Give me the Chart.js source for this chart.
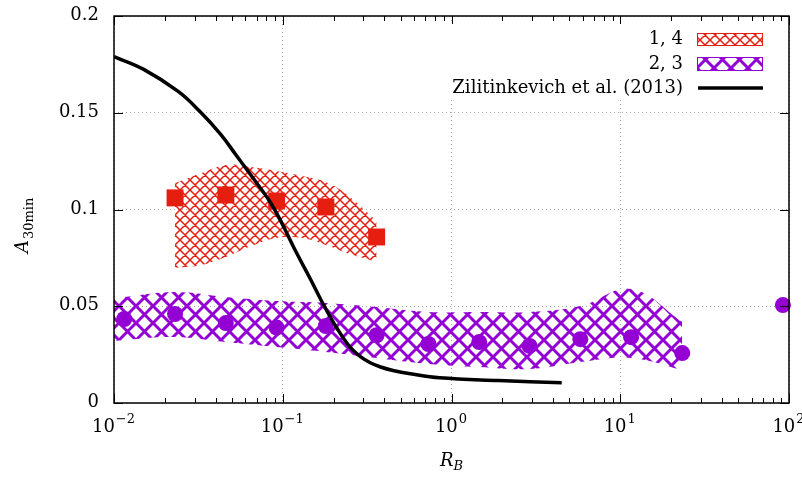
<!DOCTYPE html>
<html>
<head>
<meta charset="utf-8">
<script src="https://cdn.jsdelivr.net/npm/chart.js@4"></script>
<style>
  html, body { margin: 0; padding: 0; background: #fff; }
</style>
</head>
<body>
<canvas id="grafico" width="802" height="477"></canvas>
<script>
// R_B / A_30min data, cases 1,4 and 2,3
const rbCasos14 = [0.023, 0.046, 0.092, 0.18, 0.36];
const aCasos14 = [0.106, 0.1075, 0.1044, 0.1013, 0.0858];

const rbCasos23 = [0.0115, 0.023, 0.046, 0.092, 0.18, 0.36, 0.73, 1.46, 2.9, 5.8, 11.6, 23.3, 92];
const aCasos23 = [0.0434, 0.046, 0.0413, 0.039, 0.0398, 0.035, 0.0305, 0.0315, 0.0295, 0.033, 0.034, 0.0258, 0.0506];

// spread bands (upper / lower edges)
const rbFaixa14 = [0.023, 0.033, 0.046, 0.065, 0.092, 0.13, 0.18, 0.25, 0.36];
const faixa14Sup = [0.1137, 0.1189, 0.123, 0.122, 0.1199, 0.1173, 0.1142, 0.1065, 0.094];
const faixa14Inf = [0.0698, 0.0713, 0.0755, 0.0811, 0.0853, 0.0853, 0.0817, 0.077, 0.0729];

const rbFaixa23 = [0.01, 0.0115, 0.023, 0.046, 0.092, 0.18, 0.36, 0.73, 1.46, 2.9, 5.8, 11.6, 23.3];
const faixa23Sup = [0.0543, 0.0548, 0.0574, 0.0548, 0.0527, 0.0517, 0.0496, 0.047, 0.047, 0.047, 0.0501, 0.0589, 0.0419];
const faixa23Inf = [0.032, 0.0326, 0.0341, 0.0315, 0.0289, 0.0264, 0.0233, 0.0202, 0.0186, 0.0176, 0.0212, 0.0233, 0.0171];

// Zilitinkevich et al. (2013)
const rbZili = [0.01, 0.015, 0.024, 0.032, 0.043, 0.053, 0.067, 0.084, 0.1, 0.12, 0.145, 0.175, 0.21, 0.25, 0.29, 0.33, 0.38, 0.45, 0.57, 0.85, 1.9, 4.5];
const aZili = [0.179, 0.1724, 0.161, 0.151, 0.1387, 0.128, 0.116, 0.104, 0.092, 0.078, 0.0645, 0.0505, 0.0385, 0.029, 0.0238, 0.0208, 0.0186, 0.0168, 0.0151, 0.013, 0.0116, 0.0105];

// ticks
const xPotencias = [-2, -1, 0, 1, 2];
const yValores = [0, 0.05, 0.1, 0.15, 0.2];
const yRotulos = ['0', '0.05', '0.1', '0.15', '0.2'];

const legendas = ['1, 4', '2, 3', 'Zilitinkevich et al. (2013)'];

const VERMELHO = '#e51e10';
const ROXO = '#9400d3';
const FONTE = '"DejaVu Serif", "Liberation Serif", serif';

function pontos(xs, ys) {
    return xs.map((x, i) => ({ x: x, y: ys[i] }));
}

// hachura cruzada (losangos)
function hachura(cor, periodo, largura) {
    const c = document.createElement('canvas');
    c.width = periodo;
    c.height = periodo;
    const g = c.getContext('2d');
    g.strokeStyle = cor;
    g.lineWidth = largura;
    g.beginPath();
    for (const k of [-1, 0, 1]) {
        g.moveTo(k * periodo, 0);
        g.lineTo(k * periodo + periodo, periodo);
        g.moveTo(k * periodo, periodo);
        g.lineTo(k * periodo + periodo, 0);
    }
    g.stroke();
    return g.createPattern(c, 'repeat');
}

const padraoVermelho = hachura(VERMELHO, 10, 1.5);
const padraoRoxo = hachura(ROXO, 17, 3);

// eixos, marcas, rotulos e legenda
const decoracao = {
    id: 'decoracao',
    afterDraw(chart) {
        const ctx = chart.ctx;
        const a = chart.chartArea;
        const xs = chart.scales.x;
        const ys = chart.scales.y;
        ctx.save();

        // moldura
        ctx.strokeStyle = '#000';
        ctx.lineWidth = 1.5;
        ctx.strokeRect(a.left, a.top, a.right - a.left, a.bottom - a.top);

        // marcas do eixo x (principais e secundarias)
        ctx.lineWidth = 1;
        ctx.beginPath();
        for (let d = xPotencias[0]; d <= xPotencias[xPotencias.length - 1]; d++) {
            for (let m = 1; m <= 9; m++) {
                const v = m * Math.pow(10, d);
                if (v > xs.max * 1.0001) break;
                const px = Math.round(xs.getPixelForValue(v)) + 0.5;
                const len = m === 1 ? 9 : 5;
                ctx.moveTo(px, a.bottom);
                ctx.lineTo(px, a.bottom - len);
                ctx.moveTo(px, a.top);
                ctx.lineTo(px, a.top + len);
            }
        }
        yValores.forEach(v => {
            const py = Math.round(ys.getPixelForValue(v)) + 0.5;
            ctx.moveTo(a.left, py);
            ctx.lineTo(a.left + 9, py);
            ctx.moveTo(a.right, py);
            ctx.lineTo(a.right - 9, py);
        });
        ctx.stroke();

        ctx.fillStyle = '#000';
        ctx.textBaseline = 'alphabetic';

        // rotulos do eixo y
        ctx.font = '18px ' + FONTE;
        ctx.textAlign = 'right';
        yValores.forEach((v, i) => {
            ctx.fillText(yRotulos[i], a.left - 15, ys.getPixelForValue(v) + 4);
        });

        // rotulos 10^n
        ctx.textAlign = 'left';
        xPotencias.forEach(p => {
            const px = xs.getPixelForValue(Math.pow(10, p));
            const sup = (p < 0 ? '\u2212' : '') + Math.abs(p);
            ctx.font = '18px ' + FONTE;
            const w1 = ctx.measureText('10').width;
            ctx.font = '13px ' + FONTE;
            const w2 = ctx.measureText(sup).width;
            const x0 = px - (w1 + w2) / 2 - 1;
            ctx.font = '18px ' + FONTE;
            ctx.fillText('10', x0, 432);
            ctx.font = '13px ' + FONTE;
            ctx.fillText(sup, x0 + w1 + 1, 423);
        });

        // titulo do eixo x: R_B
        ctx.font = 'italic 18px ' + FONTE;
        const wR = ctx.measureText('R').width;
        ctx.font = 'italic 13px ' + FONTE;
        const wB = ctx.measureText('B').width;
        const xR = (a.left + a.right) / 2 - (wR + wB) / 2;
        ctx.font = 'italic 18px ' + FONTE;
        ctx.fillText('R', xR, 466);
        ctx.font = 'italic 13px ' + FONTE;
        ctx.fillText('B', xR + wR, 470);

        // titulo do eixo y: A_30min
        ctx.save();
        ctx.translate(28, 253);
        ctx.rotate(-Math.PI / 2);
        ctx.font = 'italic 18px ' + FONTE;
        const wA = ctx.measureText('A').width;
        ctx.fillText('A', 0, 0);
        ctx.font = '13px ' + FONTE;
        ctx.fillText('30min', wA + 1, 5);
        ctx.restore();

        // legenda
        ctx.fillStyle = '#fff';
        ctx.fillRect(428, 24, 344, 75);
        ctx.font = '18px ' + FONTE;
        ctx.textAlign = 'right';
        ctx.fillStyle = '#000';
        const bases = [44, 69, 93];
        legendas.forEach((t, i) => ctx.fillText(t, 683, bases[i]));

        ctx.fillStyle = padraoVermelho;
        ctx.fillRect(697, 33, 66, 13);
        ctx.strokeStyle = VERMELHO;
        ctx.lineWidth = 1;
        ctx.strokeRect(697.5, 33.5, 65, 12);

        ctx.fillStyle = padraoRoxo;
        ctx.fillRect(697, 57, 66, 14);
        ctx.strokeStyle = ROXO;
        ctx.strokeRect(697.5, 57.5, 65, 13);

        ctx.strokeStyle = '#000';
        ctx.lineWidth = 3.5;
        ctx.beginPath();
        ctx.moveTo(698, 88);
        ctx.lineTo(763, 88);
        ctx.stroke();

        ctx.restore();
    }
};

const ctx = document.getElementById('grafico').getContext('2d');

new Chart(ctx, {
    type: 'line',
    data: {
        datasets: [
            {
                label: legendas[2],
                data: pontos(rbZili, aZili),
                borderColor: '#000',
                borderWidth: 3.5,
                pointRadius: 0,
                tension: 0.4,
                fill: false,
                order: 0
            },
            {
                label: legendas[0],
                data: pontos(rbCasos14, aCasos14),
                showLine: false,
                pointStyle: 'rect',
                pointRadius: 12,
                backgroundColor: VERMELHO,
                borderColor: VERMELHO,
                borderWidth: 0,
                clip: false,
                order: 1
            },
            {
                label: legendas[1],
                data: pontos(rbCasos23, aCasos23),
                showLine: false,
                pointStyle: 'circle',
                pointRadius: 8,
                backgroundColor: ROXO,
                borderColor: ROXO,
                borderWidth: 0,
                clip: false,
                order: 2
            },
            {
                label: 'faixa 1,4 sup',
                data: pontos(rbFaixa14, faixa14Sup),
                borderWidth: 0,
                pointRadius: 0,
                tension: 0.4,
                backgroundColor: padraoVermelho,
                fill: '+1',
                order: 3
            },
            {
                label: 'faixa 1,4 inf',
                data: pontos(rbFaixa14, faixa14Inf),
                borderWidth: 0,
                pointRadius: 0,
                tension: 0.4,
                fill: false,
                order: 4
            },
            {
                label: 'faixa 2,3 sup',
                data: pontos(rbFaixa23, faixa23Sup),
                borderWidth: 0,
                pointRadius: 0,
                tension: 0.4,
                backgroundColor: padraoRoxo,
                fill: '+1',
                order: 5
            },
            {
                label: 'faixa 2,3 inf',
                data: pontos(rbFaixa23, faixa23Inf),
                borderWidth: 0,
                pointRadius: 0,
                tension: 0.4,
                fill: false,
                order: 6
            }
        ]
    },
    options: {
        responsive: false,
        animation: false,
        devicePixelRatio: 1,
        layout: { padding: { top: 16, right: 13, bottom: 0, left: 0 } },
        plugins: {
            legend: { display: false },
            tooltip: { enabled: false }
        },
        scales: {
            x: {
                type: 'logarithmic',
                min: Math.pow(10, xPotencias[0]),
                max: Math.pow(10, xPotencias[xPotencias.length - 1]),
                afterBuildTicks: (scale) => {
                    scale.ticks = xPotencias.map(p => ({ value: Math.pow(10, p) }));
                },
                afterFit: (scale) => { scale.height = 74; },
                ticks: { display: false },
                grid: { color: '#a8a8a8', lineWidth: 1, drawTicks: false },
                border: { display: false, dash: [1, 3] }
            },
            y: {
                min: yValores[0],
                max: yValores[yValores.length - 1],
                afterBuildTicks: (scale) => {
                    scale.ticks = yValores.map(v => ({ value: v }));
                },
                afterFit: (scale) => { scale.width = 114; },
                ticks: { display: false },
                grid: { color: '#a8a8a8', lineWidth: 1, drawTicks: false },
                border: { display: false, dash: [1, 3] }
            }
        }
    },
    plugins: [decoracao]
});
</script>
</body>
</html>
